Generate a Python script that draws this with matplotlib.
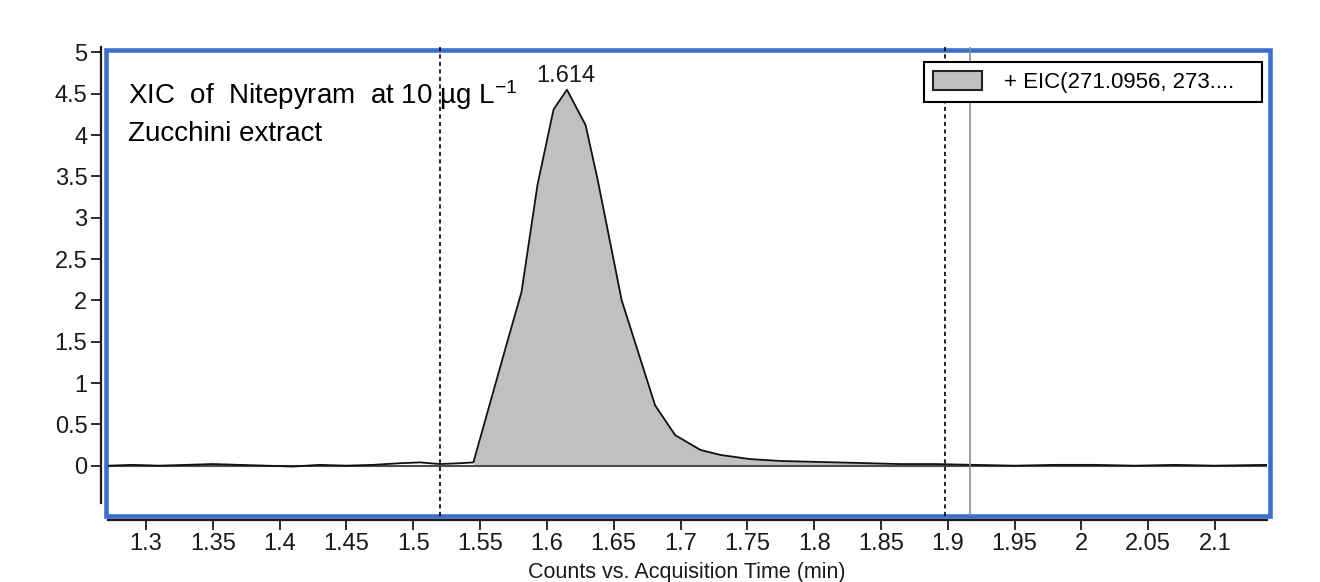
import matplotlib
matplotlib.use('Agg')
import matplotlib.pyplot as plt
from matplotlib.patches import Rectangle, Patch
import numpy as np

plt.rcParams['font.family'] = ['Liberation Sans', 'DejaVu Sans']
plt.rcParams['mathtext.fontset'] = 'custom'
plt.rcParams['mathtext.rm'] = 'Liberation Sans'
plt.rcParams['mathtext.it'] = 'Liberation Sans:italic'
plt.rcParams['mathtext.bf'] = 'Liberation Sans:bold'

# ---------------- data ----------------
time_min = [1.272, 1.29, 1.31, 1.33, 1.35, 1.37, 1.39, 1.41, 1.43, 1.45, 1.47,
            1.49, 1.505, 1.52, 1.535, 1.545, 1.557, 1.569, 1.581, 1.593, 1.605,
            1.615, 1.629, 1.638, 1.656, 1.681, 1.696, 1.715, 1.730, 1.752, 1.775,
            1.805, 1.834, 1.864, 1.89, 1.92, 1.95, 1.98, 2.01, 2.04, 2.07, 2.10,
            2.139]
counts = [0.00, 0.01, 0.00, 0.01, 0.02, 0.01, 0.00, -0.01, 0.01, 0.00, 0.01,
          0.03, 0.04, 0.02, 0.03, 0.04, 0.73, 1.42, 2.10, 3.40, 4.31,
          4.55, 4.12, 3.46, 2.00, 0.73, 0.37, 0.19, 0.13, 0.08, 0.057,
          0.045, 0.033, 0.02, 0.02, 0.01, 0.00, 0.01, 0.01, 0.00, 0.01, 0.00,
          0.01]
integration_start = 1.545
integration_end = 1.89

x_ticks = [1.3, 1.35, 1.4, 1.45, 1.5, 1.55, 1.6, 1.65, 1.7, 1.75, 1.8, 1.85,
           1.9, 1.95, 2.0, 2.05, 2.1]
x_tick_labels = ['1.3', '1.35', '1.4', '1.45', '1.5', '1.55', '1.6', '1.65',
                 '1.7', '1.75', '1.8', '1.85', '1.9', '1.95', '2', '2.05', '2.1']
y_ticks = [0, 0.5, 1, 1.5, 2, 2.5, 3, 3.5, 4, 4.5, 5]
y_tick_labels = ['0', '0.5', '1', '1.5', '2', '2.5', '3', '3.5', '4', '4.5', '5']

peak_rt = 1.614
peak_apex_time = 1.615
peak_apex_height = 4.55
dashed_markers = [1.52, 1.898]
solid_marker = 1.917
legend_label = '+ EIC(271.0956, 273....'
annotation_line1 = 'XIC  of  Nitepyram  at 10 µg L$^{\\mathregular{-1}}$'
annotation_line2 = 'Zucchini extract'
x_label = 'Counts vs. Acquisition Time (min)'

# ---------------- figure ----------------
W, H = 1320, 582
fig = plt.figure(figsize=(W / 100, H / 100), dpi=100)
fig.patch.set_facecolor('white')

def fx(px):
    return px / W

def fy(py):
    return 1 - py / H

ax_left, ax_right, ax_top, ax_bottom = 108, 1267, 47, 516
ax = fig.add_axes([fx(ax_left), fy(ax_bottom), (ax_right - ax_left) / W,
                   (ax_bottom - ax_top) / H])
ax.patch.set_visible(False)
ax.set_xlim(1.27156, 2.13891)
ax.set_ylim(-0.6086, 5.066)

for s in ['top', 'right']:
    ax.spines[s].set_visible(False)
ax.spines['left'].set_position(('outward', 4.7))
ax.spines['left'].set_bounds(-0.451, 5.066)
ax.spines['bottom'].set_position(('outward', 2.9))
for s in ['left', 'bottom']:
    ax.spines[s].set_linewidth(1.6)
    ax.spines[s].set_color('#1a1a1a')

ax.set_xticks(x_ticks)
ax.set_xticklabels(x_tick_labels)
ax.set_yticks(y_ticks)
ax.set_yticklabels(y_tick_labels)
ax.tick_params(axis='y', length=7.2, width=1.3, pad=2.9, labelsize=17,
               color='#1a1a1a', labelcolor='#1a1a1a')
ax.tick_params(axis='x', length=7.2, width=1.3, pad=2.5, labelsize=17,
               color='#1a1a1a', labelcolor='#1a1a1a')

t = np.array(time_min)
y = np.array(counts)
mask = (t >= integration_start) & (t <= integration_end)
ax.fill_between(t[mask], y[mask], 0, color='#c0c0c0', lw=0, zorder=1)
ax.axhline(0, color='#4d4d4d', lw=1.5, zorder=2)
ax.plot(t, y, color='#111111', lw=1.3, zorder=3)

for xm in dashed_markers:
    ax.axvline(xm, color='black', lw=1.2, ls=(0, (2.5, 2)), zorder=4)
ax.axvline(solid_marker, color='#8c8c8c', lw=1.2, zorder=4)

ax.annotate(f'{peak_rt:.3f}', xy=(peak_apex_time, peak_apex_height),
            xytext=(-1, 5.5), textcoords='offset points', ha='center',
            va='baseline', fontsize=17, color='#1a1a1a')

handle = Patch(facecolor='#c0c0c0', edgecolor='#222222', lw=1.5,
               label=legend_label + '   ')
leg = ax.legend(handles=[handle], loc='upper right',
                bbox_to_anchor=((1262 - ax_left) / (ax_right - ax_left),
                                1 - (62 - ax_top) / (ax_bottom - ax_top)),
                borderaxespad=0, fancybox=False, framealpha=1,
                edgecolor='black', fontsize=16, handlelength=2.2,
                handleheight=0.95, handletextpad=1.0, borderpad=0.4)
leg.get_frame().set_linewidth(1.5)
leg.set_zorder(10)

# text annotations
fig.text(fx(128), fy(104), annotation_line1, fontsize=20, va='baseline',
         ha='left', color='black')
fig.text(fx(128), fy(141), annotation_line2, fontsize=20, va='baseline',
         ha='left', color='black')

# blue frame around the plot area
rect = Rectangle((fx(106), fy(515.5)), (1269.5 - 106) / W, (515.5 - 49.5) / H,
                 transform=fig.transFigure, fill=False, edgecolor='#3b6fcb',
                 lw=3.3, zorder=-1)
fig.patches.append(rect)

# x label at the bottom edge
fig.text(fx(687), fy(578), x_label, ha='center', va='baseline', fontsize=15.5,
         color='#1a1a1a')

fig.savefig('out.png', dpi=100)
